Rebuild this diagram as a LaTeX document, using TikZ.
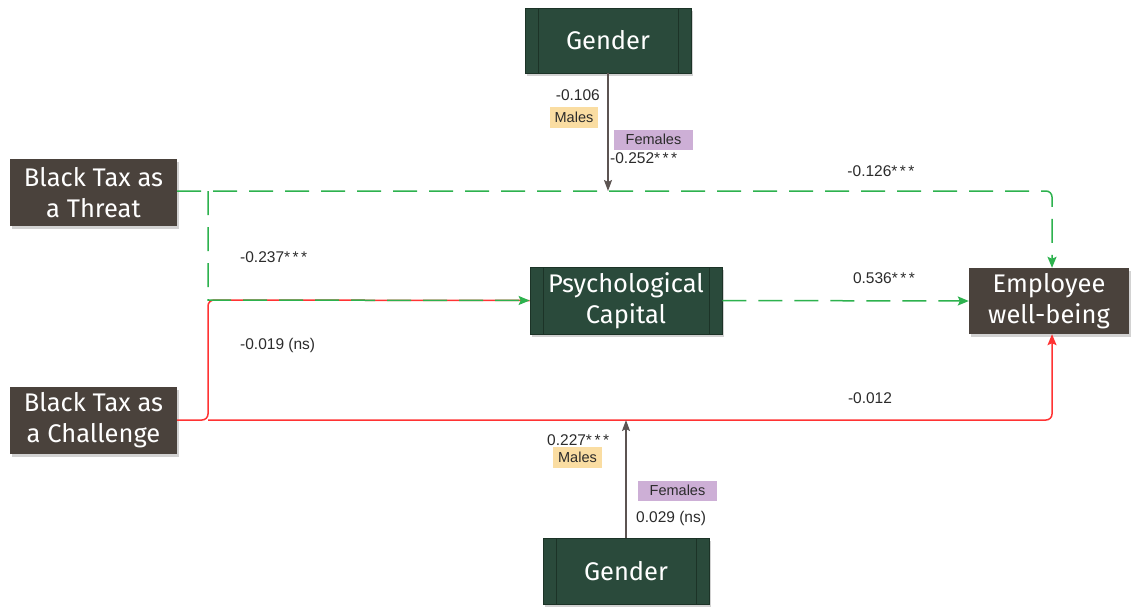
\documentclass[tikz,border=0pt]{standalone}
\usepackage{fontspec}
\setmainfont{Liberation Sans}
\newfontfamily\boxfont{Fira Sans}
\usetikzlibrary{arrows.meta,shadows}
\definecolor{dkgreen}{HTML}{2A4A3B}
\definecolor{dkgreenline}{HTML}{1C3327}
\definecolor{dkbrown}{HTML}{4A423C}
\definecolor{lgreen}{HTML}{2DB24E}
\definecolor{lred}{HTML}{FF3333}
\definecolor{gline}{HTML}{5C5452}
\definecolor{malefill}{HTML}{FADDA2}
\definecolor{femfill}{HTML}{CDAFD6}
\definecolor{labtext}{HTML}{2B2B2B}
\newcommand{\sss}{*\kern2.5pt*\kern2.5pt*}
\tikzset{
  boxbase/.style={draw=none, text=white, align=center, font=\boxfont\fontsize{25.5}{31}\selectfont,
    drop shadow={opacity=0.35, shadow xshift=2pt, shadow yshift=-3pt}},
  gbox/.style={boxbase, fill=dkgreen, draw=dkgreenline, line width=0.8pt,
    path picture={\draw[dkgreenline, line width=1pt]
      ([xshift=13pt]path picture bounding box.north west) -- ([xshift=13pt]path picture bounding box.south west)
      ([xshift=-13pt]path picture bounding box.north east) -- ([xshift=-13pt]path picture bounding box.south east);}},
  bbox/.style={boxbase, fill=dkbrown},
  gdash/.style={lgreen, line width=1.5pt, dash pattern=on 24pt off 12pt},
  gtip/.style={-{Stealth[length=11pt,width=9pt,inset=2pt]}},
  redl/.style={lred, line width=1.5pt},
  grayl/.style={gline, line width=1.5pt},
  lab/.style={font=\fontsize{15.5}{17}\selectfont, text=labtext, inner sep=0pt},
  tagm/.style={font=\fontsize{14.5}{16}\selectfont, text=labtext, fill=malefill, minimum height=21pt, inner xsep=5pt, inner ysep=0pt},
  tagf/.style={font=\fontsize{14.5}{16}\selectfont, text=labtext, fill=femfill, minimum height=20pt, minimum width=79pt, inner xsep=6pt, inner ysep=0pt},
}
\begin{document}
\begin{tikzpicture}[x=1pt,y=-1pt]
\useasboundingbox (0,0) rectangle (1131,608);
\fill[white] (0,0) rectangle (1131,608);

% nodes
\node[gbox, minimum width=166pt, minimum height=65pt] (gtop) at (608,40.5) {Gender};
\node[bbox, minimum width=167pt, minimum height=67pt] (threat) at (93.5,192.5) {Black Tax as\\a Threat};
\node[bbox, minimum width=167pt, minimum height=67pt] (chal) at (93.5,420.5) {Black Tax as\\a Challenge};
\node[gbox, minimum width=192pt, minimum height=67pt] (psy) at (626,300.5) {Psychological\\Capital};
\node[bbox, minimum width=160pt, minimum height=66pt] (emp) at (1049,301) {Employee\\well-being};
\node[gbox, minimum width=166pt, minimum height=66pt] (gbot) at (626,571) {Gender};

\coordinate (tr) at (1052,191);
\coordinate (tb) at (208,191);
\coordinate (cr) at (1052,420);
\coordinate (cb) at (208,420);
\coordinate (pj) at (208,300);

% red paths
\draw[redl, rounded corners=6pt] (chal.east |- cb) -- (cb) -- (pj) -- (psy.west);
\draw[redl, rounded corners=6pt, -{Stealth[length=11pt,width=9pt,inset=2pt]}] (cb) -- (cr) -- (cr |- emp.south);

% green paths
\draw[gdash, rounded corners=6pt, gtip] (threat.east |- tb) -- (tr) -- (tr |- emp.north);
\draw[gdash, gtip] (tb) -- (pj) -- (psy.west);
\draw[gdash, gtip] (psy.east) -- (emp.west);

% gender arrows
\draw[grayl, -{Stealth[length=11pt,width=8pt,inset=2pt]}] (gtop.south) -- (gtop.south |- tb);
\draw[grayl, -{Stealth[length=11pt,width=8pt,inset=2pt]}] (gbot.north) -- (gbot.north |- cb);

% labels
\node[lab, anchor=east] (l1) at (600,95) {-0.106};
\node[tagm] (m1) at (574,117.5) {Males};
\node[tagf] (f1) at (653.5,139.5) {Females};
\node[lab, anchor=west] (l2) at (610,158) {-0.252\sss};
\node[lab] (l3) at (881,171) {-0.126\sss};
\node[lab, anchor=west] (l4) at (240,257) {-0.237\sss};
\node[lab] (l5) at (884,278) {0.536\sss};
\node[lab, anchor=west] (l6) at (240,345) {-0.019 (ns)};
\node[lab] (l7) at (870,398) {-0.012};
\node[lab, anchor=west] (l8) at (547,440) {0.227\sss};
\node[tagm] (m2) at (577.5,457.5) {Males};
\node[tagf] (f2) at (677.5,490.5) {Females};
\node[lab, anchor=west] (l9) at (636,518) {0.029 (ns)};
\end{tikzpicture}
\end{document}
